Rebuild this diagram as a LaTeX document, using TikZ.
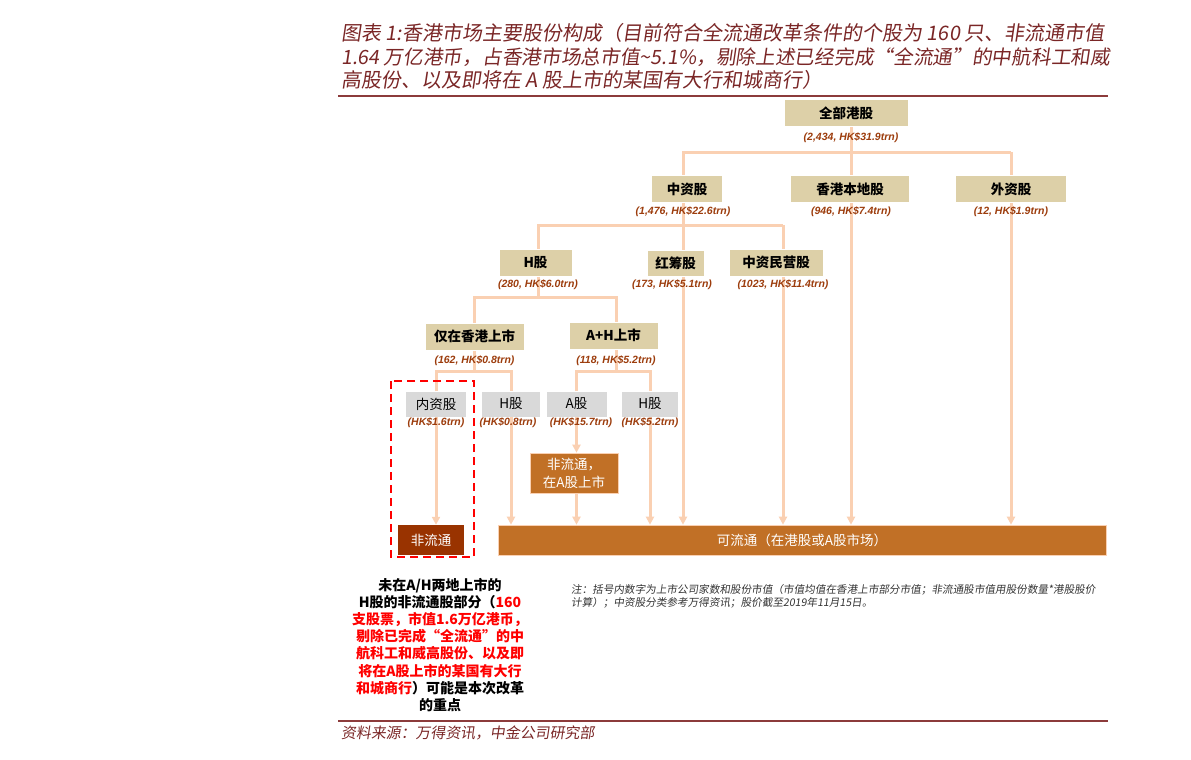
\documentclass[tikz,border=0pt]{standalone}
\usepackage{fontspec}
\setmainfont{Noto Sans CJK SC}
\newfontfamily\cjkit[FakeSlant=0.15]{Noto Sans CJK SC}
\newfontfamily\lab{Liberation Sans}
\usetikzlibrary{arrows.meta,backgrounds}
\definecolor{titlec}{HTML}{7A2626}
\definecolor{rulec}{HTML}{8C3B3B}
\definecolor{tanc}{HTML}{DDD0A8}
\definecolor{greyc}{HTML}{D9D9D9}
\definecolor{linec}{HTML}{FAD0B2}
\definecolor{labc}{HTML}{9C3C0C}
\definecolor{orangec}{HTML}{C17026}
\definecolor{darkc}{HTML}{993300}
\definecolor{notec}{HTML}{333333}
\definecolor{redc}{HTML}{FF0000}
\begin{document}
\begin{tikzpicture}[x=1pt,y=1pt,
  titletxt/.style={anchor=west,inner sep=0pt,text=titlec,font=\cjkit\fontsize{20}{22}\selectfont},
  tanbox/.style={fill=tanc,draw=white,line width=0.6pt,inner sep=0pt,minimum height=27pt,font=\bfseries\fontsize{13.5}{15}\selectfont},
  greybox/.style={fill=greyc,inner sep=0pt,minimum height=25pt,font=\fontsize{13.5}{15}\selectfont},
  lbl/.style={inner sep=1pt,text=labc,font=\lab\bfseries\itshape\fontsize{10.5}{12}\selectfont},
  conn/.style={draw=linec,line width=3pt},
  arr/.style={draw=linec,line width=3pt,-{Triangle[width=8pt,length=8pt]}},
  whitebox/.style={text=white,inner sep=0pt,font=\fontsize{13.5}{18}\selectfont,align=center}]
\useasboundingbox (0,0) rectangle (1191,-760);
% title
\node[titletxt] (t1) at (341,-33) {图表 1:香港市场主要股份构成（目前符合全流通改革条件的个股为 160 只、非流通市值};
\node[titletxt,font=\cjkit\fontsize{19.7}{22}\selectfont] (t2) at (341,-57) {1.64 万亿港币，占香港市场总市值\textasciitilde 5.1\%，剔除上述已经完成“全流通”的中航科工和威};
\node[titletxt] (t3) at (341,-80) {高股份、以及即将在 A 股上市的某国有大行和城商行）};
\draw[rulec,line width=1.2pt] (338,-96) -- (1108,-96);
\draw[rulec,line width=1.2pt] (338,-721) -- (1108,-721);
% level 1
\node[tanbox,minimum width=124pt] (all) at (846,-113) {全部港股};
\node[lbl] (lall) at (851,-138) {(2,434, HK\$31.9trn)};
% level 2
\node[tanbox,minimum width=71pt] (zz) at (687,-189) {中资股};
\node[lbl] (lzz) at (683,-212) {(1,476, HK\$22.6trn)};
\node[tanbox,minimum width=119pt] (hk) at (850,-189) {香港本地股};
\node[lbl] (lhk) at (851,-212) {(946, HK\$7.4trn)};
\node[tanbox,minimum width=111pt] (wz) at (1011,-189) {外资股};
\node[lbl] (lwz) at (1011,-212) {(12, HK\$1.9trn)};
% level 3
\node[tanbox,minimum width=73pt] (H) at (535.5,-262.5) {H股};
\node[lbl] (lH) at (538,-285) {(280, HK\$6.0trn)};
\node[tanbox,minimum width=57pt,minimum height=26pt] (hc) at (675.5,-263) {红筹股};
\node[lbl] (lhc) at (672,-285) {(173, HK\$5.1trn)};
\node[tanbox,minimum width=94pt] (zm) at (776,-262.5) {中资民营股};
\node[lbl] (lzm) at (783,-285) {(1023, HK\$11.4trn)};
% level 4
\node[tanbox,minimum width=99pt] (only) at (474.5,-336.5) {仅在香港上市};
\node[lbl] (lonly) at (474.5,-361) {(162, HK\$0.8trn)};
\node[tanbox,minimum width=89pt] (AH) at (613.5,-335.5) {A+H上市};
\node[lbl] (lAH) at (616,-361) {(118, HK\$5.2trn)};
% level 5
\node[greybox,minimum width=60pt] (nz) at (436,-404) {内资股};
\node[lbl] (lnz) at (436,-423) {(HK\$1.6trn)};
\node[greybox,minimum width=58pt] (hb1) at (511,-404) {H股};
\node[lbl] (lhb1) at (508,-423) {(HK\$0.8trn)};
\node[greybox,minimum width=60pt] (ab) at (576.5,-404) {A股};
\node[lbl] (lab) at (581,-423) {(HK\$15.7trn)};
\node[greybox,minimum width=56pt] (hb2) at (650,-404) {H股};
\node[lbl] (lhb2) at (650,-423) {(HK\$5.2trn)};
% outcome boxes
\node[whitebox,fill=orangec,draw=linec,line width=0.6pt,minimum width=88pt,minimum height=40pt] (fa) at (574,-473) {非流通，\\在A股上市};
\node[whitebox,fill=darkc,minimum width=66pt,minimum height=30pt] (fl) at (431,-540) {非流通};
\node[whitebox,fill=orangec,draw=linec,line width=0.6pt,minimum width=608pt,minimum height=30pt] (bar) at (802,-540) {可流通（在港股或A股市场）};
% red dashed frame
\draw[redc,line width=2.4pt,dash pattern=on 8pt off 5pt] (391,-381) rectangle (474,-557);
% left remark
\node[align=center,inner sep=0pt,font=\bfseries\fontsize{14}{17.1}\selectfont] (rem) at (440,-645)
 {未在A/H两地上市的\\
  H股的非流通股部分（\textcolor{redc}{160}\\
  \textcolor{redc}{支股票，市值1.6万亿港币，}\\
  \textcolor{redc}{剔除已完成“全流通”的中}\\
  \textcolor{redc}{航科工和威高股份、以及即}\\
  \textcolor{redc}{将在A股上市的某国有大行}\\
  \textcolor{redc}{和城商行}）可能是本次改革\\
  的重点};
% note
\node[anchor=north west,align=left,inner sep=0pt,text=notec,font=\cjkit\fontsize{10.6}{13}\selectfont] (note) at (571,-584)
 {注：括号内数字为上市公司家数和股份市值（市值均值在香港上市部分市值；非流通股市值用股份数量*港股股价\\
  计算）；中资股分类参考万得资讯；股价截至2019年11月15日。};
% source
\node[anchor=west,inner sep=0pt,text=titlec,font=\cjkit\fontsize{14.9}{16}\selectfont] (src) at (341,-733) {资料来源：万得资讯，中金公司研究部};
% connectors
\begin{scope}[on background layer]
  \coordinate (h1) at (0,-152);
  \coordinate (h2) at (0,-225);
  \coordinate (h3) at (0,-297);
  \coordinate (h4) at (0,-371);
  \draw[arr] (lall |- all.center) -- (lall |- bar.north);
  \draw[conn] (lzz |- zz.center) |- (h1 -| lwz);
  \draw[arr] (h1 -| lwz) -- (lwz |- bar.north);
  \draw[arr] (lzz |- zz.center) -- (lzz |- bar.north);
  \draw[conn] (lH |- H.north) |- (h2 -| lzm);
  \draw[arr] (h2 -| lzm) -- (lzm |- bar.north);
  \draw[conn] (lH |- H.center) -- (lH |- h3);
  \draw[conn] (lonly |- only.north) |- (h3 -| lAH) -- (lAH |- AH.north);
  \draw[conn] (lonly |- only.center) -- (lonly |- h4);
  \draw[conn] (nz.north) |- (h4 -| hb1) -- (hb1.north);
  \draw[conn] (lAH |- AH.center) -- (lAH |- h4);
  \draw[conn] (ab.north) |- (h4 -| hb2) -- (hb2.north);
  \draw[arr] (nz.center) -- (nz |- fl.north);
  \draw[arr] (hb1.center) -- (hb1 |- bar.north);
  \draw[arr] (ab.center) -- (ab |- fa.north);
  \draw[arr] (ab |- fa.center) -- (ab |- bar.north);
  \draw[arr] (hb2.center) -- (hb2 |- bar.north);
\end{scope}
\end{tikzpicture}
\end{document}
